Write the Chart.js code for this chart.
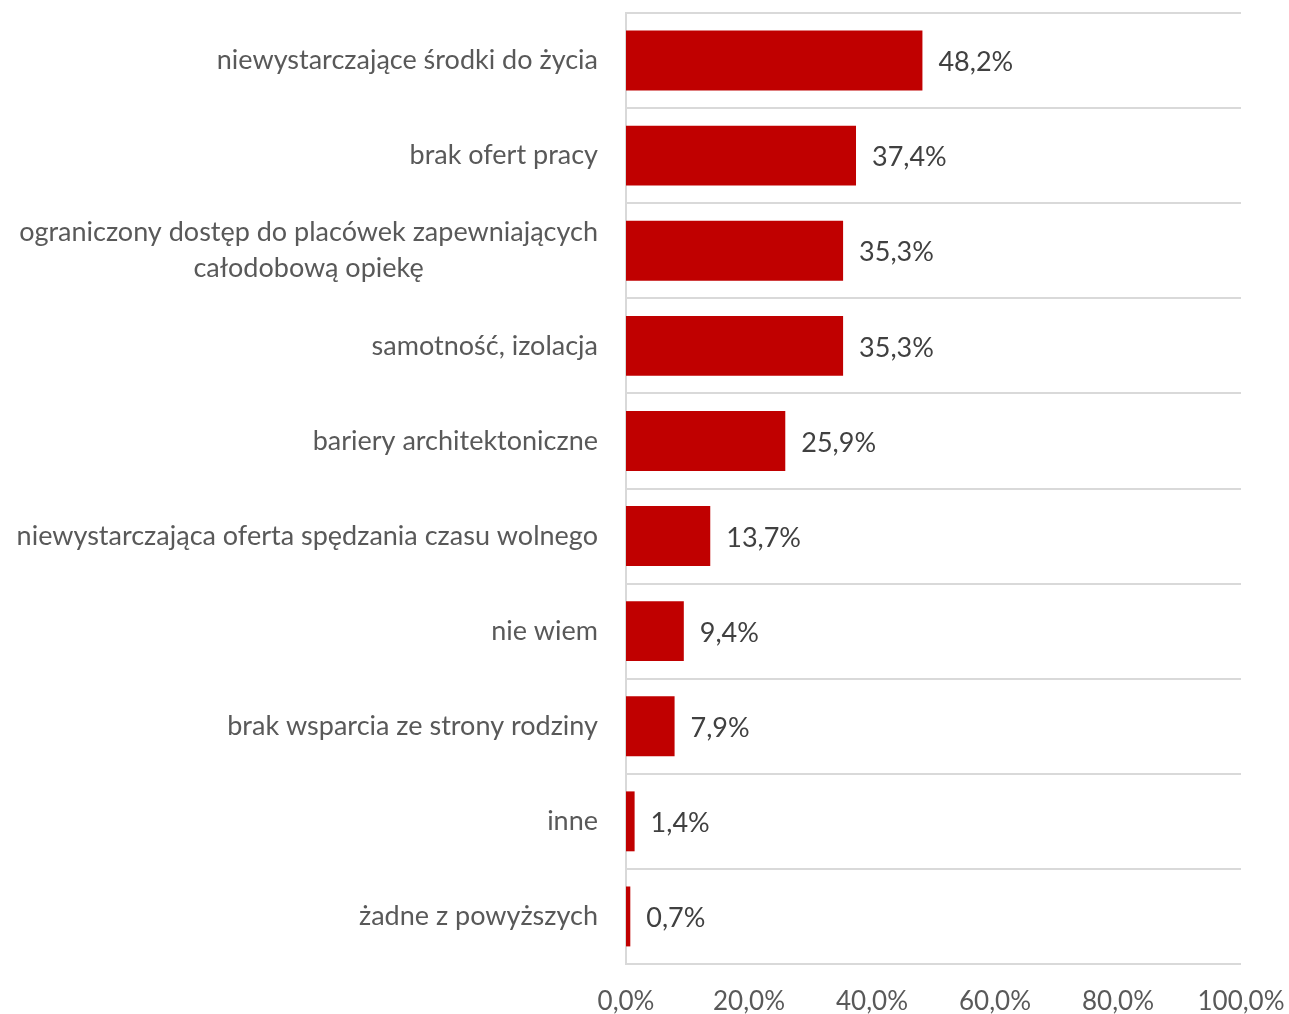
<!DOCTYPE html>
<html>
<head>
<meta charset="utf-8">
<script src="https://cdn.jsdelivr.net/npm/chart.js@4.4.1/dist/chart.umd.min.js"></script>
<style>
  html, body { margin: 0; padding: 0; background: #fff; }
  #wrap { width: 1289px; height: 1014px; position: relative; }
</style>
</head>
<body>
<div id="wrap"><canvas id="chart"></canvas></div>
<script>
const categories = [
    ['niewystarczające środki do życia'],
    ['brak ofert pracy'],
    ['ograniczony dostęp do placówek zapewniających', 'całodobową opiekę'],
    ['samotność, izolacja'],
    ['bariery architektoniczne'],
    ['niewystarczająca oferta spędzania czasu wolnego'],
    ['nie wiem'],
    ['brak wsparcia ze strony rodziny'],
    ['inne'],
    ['żadne z powyższych']
];
const values = [48.2, 37.4, 35.3, 35.3, 25.9, 13.7, 9.4, 7.9, 1.4, 0.7];
const xTicks = [0, 20, 40, 60, 80, 100];

const FONT = 'Lato';
const labelFont = '27px ' + FONT;

const fmt = (v, d) => v.toFixed(d).replace('.', ',') + '%';

// category labels drawn by hand so the two-line one is centred like the original
const categoryLabels = {
    id: 'categoryLabels',
    afterDraw(chart) {
        const { ctx } = chart;
        const y = chart.scales.y;
        const right = chart.chartArea.left - 28;
        ctx.save();
        ctx.font = labelFont;
        ctx.fillStyle = '#595959';
        ctx.textBaseline = 'middle';
        ctx.textAlign = 'center';
        categories.forEach((lines, i) => {
            const cy = y.getPixelForTick(i);
            const w = Math.max(...lines.map(l => ctx.measureText(l).width));
            const lh = 36;
            lines.forEach((l, j) => {
                const ly = cy + (j - (lines.length - 1) / 2) * lh;
                ctx.fillText(l, right - w / 2, ly);
            });
        });
        ctx.restore();
    }
};

const valueLabels = {
    id: 'valueLabels',
    afterDatasetsDraw(chart) {
        const { ctx } = chart;
        const meta = chart.getDatasetMeta(0);
        ctx.save();
        ctx.font = labelFont;
        ctx.fillStyle = '#404040';
        ctx.textBaseline = 'middle';
        ctx.textAlign = 'left';
        meta.data.forEach((bar, i) => {
            ctx.fillText(fmt(values[i], 1), bar.x + 16, bar.y + 2);
        });
        ctx.restore();
    }
};

new Chart(document.getElementById('chart'), {
    type: 'bar',
    data: {
        labels: categories.map(c => c.join(' ')),
        datasets: [{
            data: values,
            backgroundColor: '#c00000',
            borderWidth: 0,
            barPercentage: 1,
            categoryPercentage: 0.63
        }]
    },
    options: {
        indexAxis: 'y',
        responsive: true,
        maintainAspectRatio: false,
        animation: false,
        layout: { padding: { top: 13, right: 48, left: 0, bottom: 0 } },
        plugins: {
            legend: { display: false },
            tooltip: { enabled: false }
        },
        scales: {
            x: {
                min: 0,
                max: 100,
                afterBuildTicks: (s) => { s.ticks = xTicks.map(v => ({ value: v })); },
                afterFit: (s) => { s.height = 50; s.paddingLeft = 0; s.paddingRight = 0; },
                grid: { display: false, drawTicks: false },
                border: { display: false },
                ticks: {
                    padding: 22,
                    color: '#595959',
                    font: { family: FONT, size: 26 },
                    maxRotation: 0,
                    callback: (v) => fmt(v, 1)
                }
            },
            y: {
                afterFit: (s) => { s.width = 626; },
                grid: { color: '#d9d9d9', lineWidth: 2, drawTicks: false, offset: true },
                border: { display: true, color: '#d9d9d9', width: 2 },
                ticks: { display: false }
            }
        }
    },
    plugins: [valueLabels, categoryLabels]
});
</script>
</body>
</html>
